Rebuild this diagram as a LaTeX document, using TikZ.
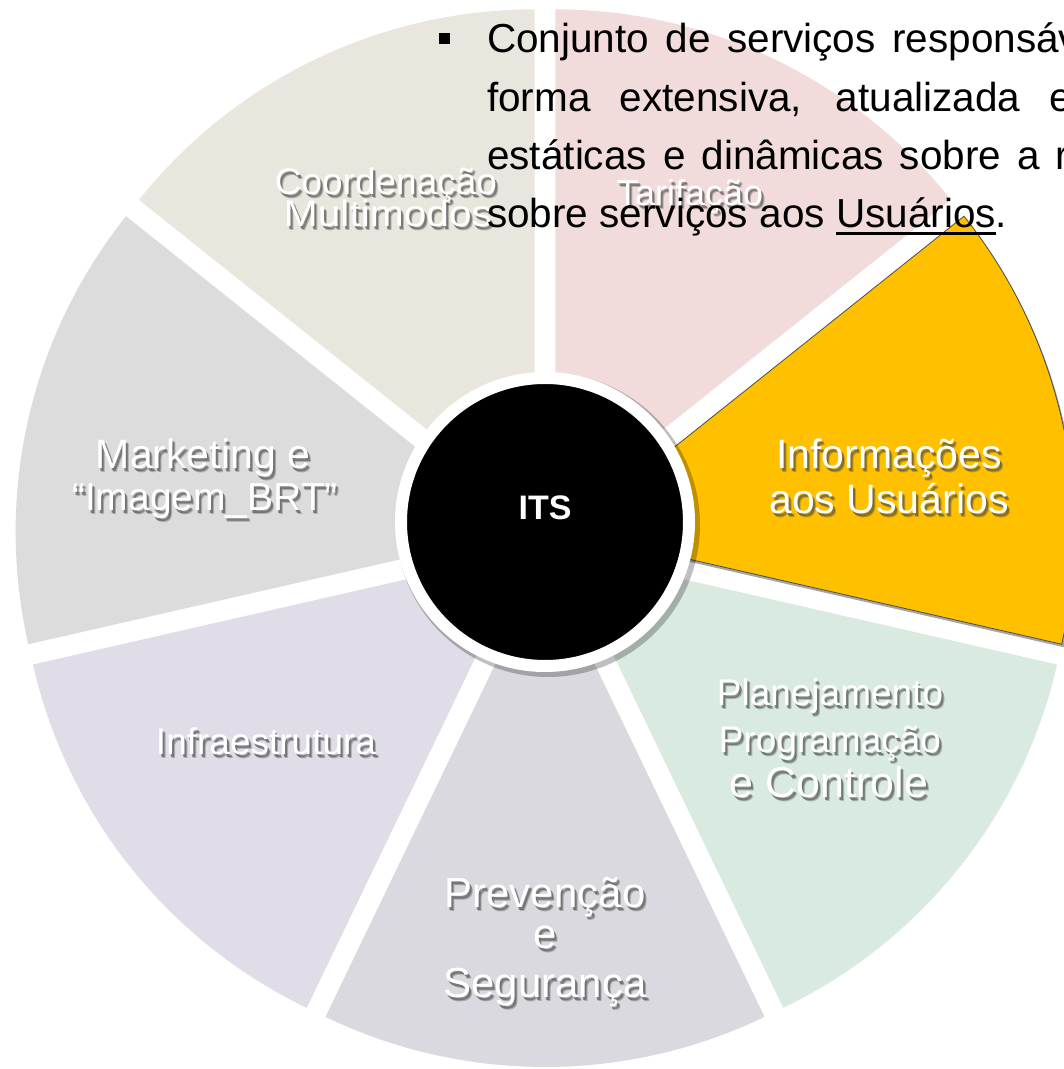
\documentclass[tikz,border=0pt]{standalone}
\usepackage{fontspec}
\setmainfont{Liberation Sans}
\usetikzlibrary{calc}
\definecolor{cCoord}{RGB}{233,230,221}
\definecolor{cTarif}{RGB}{242,219,219}
\definecolor{cInfo}{RGB}{255,192,0}
\definecolor{cPlan}{RGB}{217,234,224}
\definecolor{cPrev}{RGB}{218,217,223}
\definecolor{cInfra}{RGB}{224,220,232}
\definecolor{cMkt}{RGB}{220,220,220}
\newcommand\ulword[1]{\setbox0\hbox{#1}\rlap{\rule[-7pt]{\wd0}{3pt}}\box0}
\newcommand\seglbl[5]{%
  \node[lblsh, font=\fontsize{#4}{#4}\selectfont] at ({#2+3},{#3-4}) {#5};
  \node[lblsh, opacity=.5, font=\fontsize{#4}{#4}\selectfont] at ({#2+2},{#3-2.5}) {#5};
  \node[lbl, font=\fontsize{#4}{#4}\selectfont] (#1) at (#2,#3) {#5};}
\begin{document}
\begin{tikzpicture}[x=1pt,y=1pt,
  lbl/.style={anchor=base, inner sep=0pt, text=white},
  lblsh/.style={anchor=base, inner sep=0pt, text=black!75, opacity=.3},
  para/.style={anchor=base west, inner sep=0pt, font=\fontsize{40.5}{48}\selectfont, text=black}]
\useasboundingbox (0,0) rectangle (1064,1069);
\clip (0,0) rectangle (1064,1069);
\fill[white] (0,0) rectangle (1064,1069);
\coordinate (C) at (545,532);
% pastel segments
\foreach \i/\col in {0/cCoord,1/cMkt,2/cInfra,3/cPrev,4/cPlan,6/cTarif}{
  \pgfmathsetmacro\sa{90+\i*360/7}
  \pgfmathsetmacro\ma{\sa+180/7}
  \fill[\col] ($(C)+(\ma:24)$) -- ++(\sa:506) arc[start angle=\sa, delta angle=51.4286, radius=506] -- cycle;
}
% highlighted segment
\pgfmathsetmacro\sa{90+5*360/7}
\pgfmathsetmacro\ma{\sa+180/7}
\fill[black, opacity=.35] ($(C)+(\ma:24)+(2,-3)$) -- ++(\sa:506) arc[start angle=\sa, delta angle=51.4286, radius=506] -- cycle;
\filldraw[fill=cInfo, draw=black!70, line width=.8pt] ($(C)+(\ma:24)$) -- ++(\sa:506) arc[start angle=\sa, delta angle=51.4286, radius=506] -- cycle;
% centre circle
\fill[black, opacity=.25] (548,544) circle (152);
\node[circle, fill=black, draw=white, line width=12pt, minimum size=288pt, inner sep=0pt] (its) at (545,547) {};
\node[inner sep=0pt, anchor=base, text=white, font=\bfseries\fontsize{34}{40}\selectfont] (itslbl) at (545,549) {ITS};
% segment labels
\seglbl{coord1}{386}{874}{37}{Coordenação}
\seglbl{coord2}{388}{842}{37}{\scalebox{1.1}[1]{Multimodos}}
\seglbl{tarif}{690}{863}{36}{Tarifação}
\seglbl{info1}{889}{600}{41}{Informações}
\seglbl{info2}{889}{555}{41}{aos Usuários}
\seglbl{mkt1}{203}{600}{41}{Marketing e}
\seglbl{mkt2}{205}{558}{39}{“Imagem\_BRT”}
\seglbl{infra}{266}{314}{37}{Infraestrutura}
\seglbl{prev1}{545}{161}{42}{Prevenção}
\seglbl{prev2}{545}{120}{42}{e}
\seglbl{prev3}{545}{71}{42}{Segurança}
\seglbl{plan1}{830}{363}{37}{Planejamento}
\seglbl{plan2}{830}{316}{37}{Programação}
\seglbl{plan3}{829}{271}{43}{e Controle}
% paragraph
\node[fill=black, minimum size=11pt, inner sep=0pt] (bullet) at (444,1030) {};
\node[para] (p1) at (487,1016) {\makebox[592pt][s]{Conjunto de serviços responsáv}};
\node[para] (p2) at (487,957.7) {\makebox[585pt][s]{forma extensiva, atualizada e}};
\node[para] (p3) at (487,899.3) {\makebox[582pt][s]{estáticas e dinâmicas sobre a r}};
\node[para] (p4) at (487,841) {sobre serviços aos \ulword{Usuários}.};
\end{tikzpicture}
\end{document}
